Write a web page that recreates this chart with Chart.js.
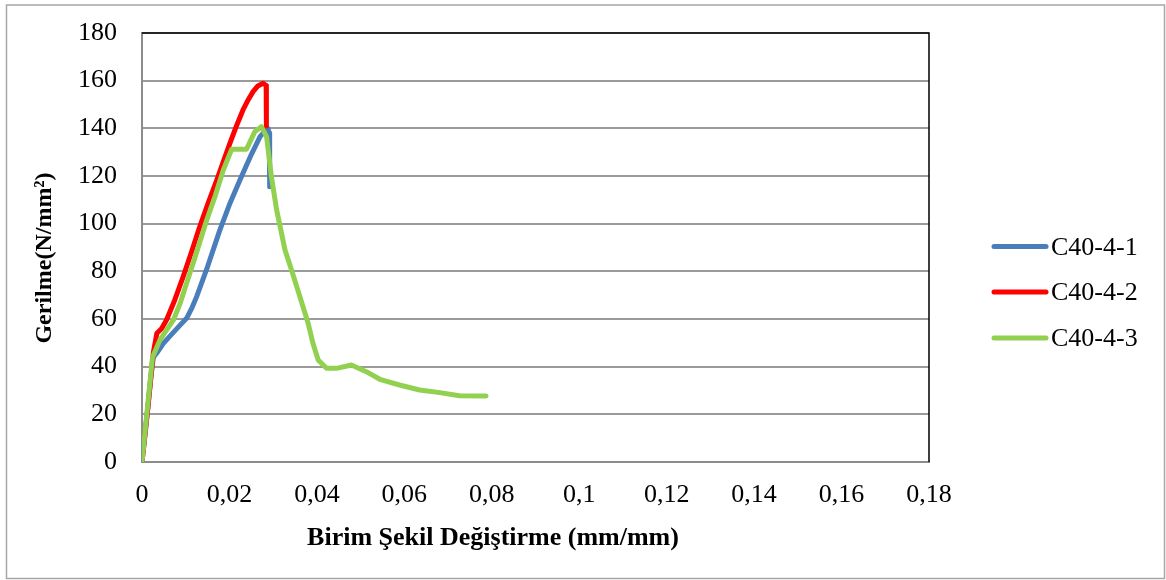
<!DOCTYPE html>
<html>
<head>
<meta charset="utf-8">
<style>
  html, body { margin: 0; padding: 0; background: #fff; }
  #wrap { width: 1166px; height: 580px; position: relative; }
</style>
<script src="https://cdn.jsdelivr.net/npm/chart.js@4/dist/chart.umd.min.js"></script>
</head>
<body>
<div id="wrap"><canvas id="c" width="1166" height="580"></canvas></div>
<script>
// Stress–strain readings for the three C40-4 specimens
const seriesNames = ['C40-4-1', 'C40-4-2', 'C40-4-3'];

const strain1 = [0, 0.0006, 0.0013, 0.002, 0.0026, 0.0035, 0.0049, 0.0065, 0.0085, 0.0102, 0.0115, 0.0125, 0.015, 0.0178, 0.02, 0.0224, 0.025, 0.027, 0.0282, 0.0288, 0.0291, 0.0292];
const stress1 = [0, 10, 22, 35, 44, 46, 49.8, 53, 57, 60.3, 65, 69.4, 82, 97.3, 108, 118.3, 129, 136.5, 139, 140, 138, 115.5];

const strain2 = [0, 0.0013, 0.0026, 0.0034, 0.0045, 0.0056, 0.0075, 0.0094, 0.0113, 0.0132, 0.015, 0.0171, 0.0186, 0.0201, 0.0216, 0.0231, 0.0243, 0.0254, 0.0265, 0.0277, 0.0284, 0.0285, 0.0284];
const stress2 = [0, 22, 46, 54, 56, 59.6, 68, 77.7, 88, 98.7, 108, 118.3, 126, 133.7, 141, 147.7, 152, 155.4, 157.8, 158.9, 158, 156, 141];

const strain3 = [0, 0.0012, 0.0024, 0.0041, 0.0072, 0.0088, 0.0102, 0.0125, 0.0148, 0.0168, 0.0186, 0.0205, 0.022, 0.0239, 0.0258, 0.0273, 0.0285, 0.0296, 0.0308, 0.0327, 0.0342, 0.0361, 0.038, 0.0391, 0.0403, 0.0422, 0.0445, 0.0479, 0.0513, 0.0544, 0.0589, 0.0635, 0.0681, 0.0726, 0.0787];
const stress3 = [0, 22, 44, 51.2, 59.6, 67, 75, 88, 101.5, 112, 122.5, 131.2, 131.2, 131.2, 138.6, 140.7, 136.5, 119.7, 105.7, 89, 80.6, 69.4, 58.2, 49.8, 42.8, 39.3, 39.3, 40.7, 37.9, 34.7, 32.3, 30.2, 29.1, 27.8, 27.7];

const seriesColors = ['#4a7ebb', '#ff0000', '#92d050'];

const xTitle = 'Birim Şekil Değiştirme (mm/mm)';
const yTitle = 'Gerilme(N/mm²)';

const FONT = '"Liberation Serif", "Times New Roman", serif';

function pairs(xs, ys) {
  return xs.map((x, i) => ({ x: x, y: ys[i] }));
}

const strains = [strain1, strain2, strain3];
const stresses = [stress1, stress2, stress3];

const datasets = seriesNames.map((name, i) => ({
  label: name,
  data: pairs(strains[i], stresses[i]),
  borderColor: seriesColors[i],
  backgroundColor: seriesColors[i],
  borderWidth: 5,
  pointRadius: 0,
  showLine: true,
  tension: 0,
  borderJoinStyle: 'round',
  borderCapStyle: 'round',
  order: seriesNames.length - i
}));

// Frame, plot box edges, axis titles and legend
const decor = {
  id: 'decor',
  beforeDraw(chart) {
    const ctx = chart.ctx;
    ctx.save();
    ctx.fillStyle = '#fff';
    ctx.fillRect(0, 0, chart.width, chart.height);
    ctx.restore();
  },
  afterDatasetsDraw(chart) {
    const ctx = chart.ctx;
    const a = chart.chartArea;
    ctx.save();
    // top and right edge of the plot box
    ctx.strokeStyle = '#000';
    ctx.lineWidth = 1.5;
    ctx.beginPath();
    ctx.moveTo(a.left, a.top);
    ctx.lineTo(a.right, a.top);
    ctx.lineTo(a.right, a.bottom);
    ctx.stroke();
    ctx.restore();
  },
  afterDraw(chart) {
    const ctx = chart.ctx;
    ctx.save();
    // outer frame
    ctx.strokeStyle = '#a6a6a6';
    ctx.lineWidth = 1.5;
    ctx.strokeRect(6.5, 5, 1158, 573.5);

    // axis titles
    ctx.fillStyle = '#000';
    ctx.textAlign = 'center';
    ctx.textBaseline = 'middle';
    ctx.font = 'bold 26px ' + FONT;
    ctx.fillText(xTitle, 493, 538);
    ctx.font = 'bold 24px ' + FONT;
    ctx.translate(45, 258);
    ctx.rotate(-Math.PI / 2);
    ctx.fillText(yTitle, 0, 0);
    ctx.restore();

    // legend
    ctx.save();
    ctx.font = '26px ' + FONT;
    ctx.textAlign = 'left';
    ctx.textBaseline = 'middle';
    const rows = [246.5, 292, 338];
    chart.data.datasets.forEach((ds, i) => {
      const y = rows[i];
      ctx.strokeStyle = ds.borderColor;
      ctx.lineWidth = 5;
      ctx.lineCap = 'round';
      ctx.beginPath();
      ctx.moveTo(994, y);
      ctx.lineTo(1046, y);
      ctx.stroke();
      ctx.fillStyle = '#000';
      ctx.fillText(ds.label, 1051, y + 1.5);
    });
    ctx.restore();
  }
};

function fmtX(v) {
  return String(Number(v.toFixed(2))).replace('.', ',');
}

new Chart(document.getElementById('c'), {
  type: 'scatter',
  data: { datasets: datasets },
  options: {
    responsive: false,
    animation: false,
    devicePixelRatio: 1,
    layout: { padding: { left: 0, top: 33, right: 237, bottom: 0 } },
    plugins: {
      legend: { display: false },
      tooltip: { enabled: false }
    },
    scales: {
      x: {
        type: 'linear',
        min: 0,
        max: 0.18,
        afterFit(scale) {
          scale.height = 118;
          scale.paddingLeft = 0;
          scale.paddingRight = 0;
        },
        ticks: {
          stepSize: 0.02,
          color: '#000',
          padding: 18,
          maxRotation: 0,
          autoSkip: false,
          font: { family: FONT, size: 26 },
          callback: (v) => fmtX(v)
        },
        grid: { display: false, drawTicks: false },
        border: { display: true, color: '#8c8c8c', width: 2 }
      },
      y: {
        type: 'linear',
        min: 0,
        max: 180,
        afterFit(scale) {
          scale.width = 142;
          scale.paddingTop = 0;
          scale.paddingBottom = 0;
        },
        ticks: {
          stepSize: 20,
          color: '#000',
          padding: 25,
          font: { family: FONT, size: 26 }
        },
        grid: { color: '#9a9a9a', lineWidth: 2, drawTicks: false },
        border: { display: true, color: '#8c8c8c', width: 2 }
      }
    }
  },
  plugins: [decor]
});
</script>
</body>
</html>
